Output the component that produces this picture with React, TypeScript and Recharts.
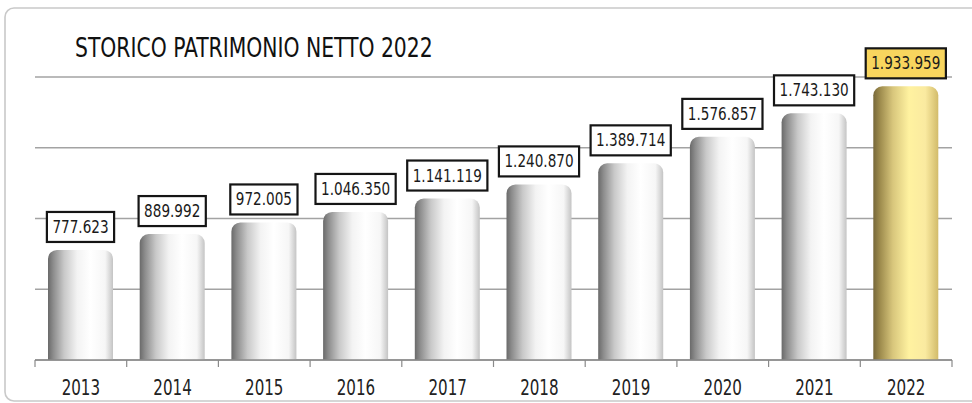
import React from "react";
import { BarChart, Bar, XAxis, YAxis, CartesianGrid, Cell, LabelList } from "recharts";

const years = ["2013", "2014", "2015", "2016", "2017", "2018", "2019", "2020", "2021", "2022"];
const netWorth = [777623, 889992, 972005, 1046350, 1141119, 1240870, 1389714, 1576857, 1743130, 1933959];
const yTicks = [0, 500000, 1000000, 1500000, 2000000];
const title = "STORICO PATRIMONIO NETTO 2022";

const data = years.map((y, i) => ({ year: y, value: netWorth[i] }));

const FONT = "'DejaVu Sans Condensed', 'DejaVu Sans', sans-serif";

const fmt = (v: number) => String(v).replace(/\B(?=(\d{3})+(?!\d))/g, ".");

const LABEL_FS = 18;
const LABEL_SX = 0.84;

const textWidth = (s: string, size: number) => {
  let w = 0;
  for (const ch of s) w += ch === "." ? 0.286 : 0.572;
  return w * size * LABEL_SX;
};

const ValueLabel = (props: any) => {
  const { x, y, width, value, index } = props;
  const cx = Number(x) + Number(width) / 2;
  const label = fmt(Number(value));
  const w = textWidth(label, LABEL_FS) + 11;
  const h = 30;
  const bottom = Number(y) - 8;
  const highlight = index === netWorth.length - 1;
  return (
    <g>
      <rect x={cx - w / 2} y={bottom - h} width={w} height={h} fill={highlight ? "#F8D55E" : "#ffffff"} stroke="#151515" strokeWidth={2.2} />
      <text
        transform={`translate(${cx},${bottom - 9}) scale(${LABEL_SX},1)`}
        textAnchor="middle"
        fontFamily={FONT}
        fontSize={LABEL_FS}
        fill="#1a1a1a"
      >
        {label}
      </text>
    </g>
  );
};

const YearTick = (props: any) => {
  const { x, payload, index } = props;
  const half = payload && payload.offset ? payload.offset : 45.85;
  const base = 360;
  return (
    <g>
      <line x1={x - half} x2={x - half} y1={base} y2={base + 7} stroke="#8a8a8a" strokeWidth={1.2} />
      {index === years.length - 1 && (
        <line x1={x + half} x2={x + half} y1={base} y2={base + 7} stroke="#8a8a8a" strokeWidth={1.2} />
      )}
      <text
        transform={`translate(${x},395) scale(0.8,1)`}
        textAnchor="middle"
        fontFamily={FONT}
        fontSize={21}
        fill="#222"
      >
        {payload.value}
      </text>
    </g>
  );
};

export default function App() {
  return (
    <div style={{ position: "absolute", left: 0, top: 0, width: 972, height: 403, background: "#fff" }}>
      <svg width={972} height={403} style={{ position: "absolute", left: 0, top: 0 }}>
        <rect x={5} y={8} width={990} height={393} rx={9} ry={9} fill="#fff" stroke="#c9c9c9" strokeWidth={1.6} />
        <text transform="translate(75,57) scale(0.87,1)" fontFamily={FONT} fontSize={26} fill="#111">
          {title}
        </text>
      </svg>
      <div style={{ position: "absolute", left: 0, top: 0 }}>
        <BarChart width={972} height={403} data={data} margin={{ top: 77, right: 20, left: 35, bottom: 0 }}>
          <defs>
            <linearGradient id="silver" x1="0" y1="0" x2="1" y2="0">
              <stop offset="0%" stopColor="#6a6a6a" />
              <stop offset="8%" stopColor="#8c8c8c" />
              <stop offset="25%" stopColor="#c9c9c9" />
              <stop offset="45%" stopColor="#f3f3f3" />
              <stop offset="65%" stopColor="#ffffff" />
              <stop offset="88%" stopColor="#f6f6f6" />
              <stop offset="100%" stopColor="#c4c4c4" />
            </linearGradient>
            <linearGradient id="gold" x1="0" y1="0" x2="1" y2="0">
              <stop offset="0%" stopColor="#77683a" />
              <stop offset="10%" stopColor="#9c8a4c" />
              <stop offset="30%" stopColor="#d8c67c" />
              <stop offset="55%" stopColor="#fff2a0" />
              <stop offset="80%" stopColor="#faeaa0" />
              <stop offset="100%" stopColor="#d2bb6a" />
            </linearGradient>
          </defs>
          <CartesianGrid vertical={false} stroke="#a3a3a3" strokeWidth={1.4} />
          <YAxis hide domain={[0, 2000000]} ticks={yTicks} />
          <XAxis
            dataKey="year"
            height={43}
            axisLine={{ stroke: "#8a8a8a", strokeWidth: 1.4 }}
            tickLine={false}
            tick={<YearTick />}
            interval={0}
          />
          <Bar dataKey="value" barSize={65} radius={[9, 9, 0, 0]} isAnimationActive={false}>
            {data.map((d, i) => (
              <Cell key={d.year} fill={i === data.length - 1 ? "url(#gold)" : "url(#silver)"} />
            ))}
            <LabelList dataKey="value" content={<ValueLabel />} />
          </Bar>
        </BarChart>
      </div>
    </div>
  );
}
